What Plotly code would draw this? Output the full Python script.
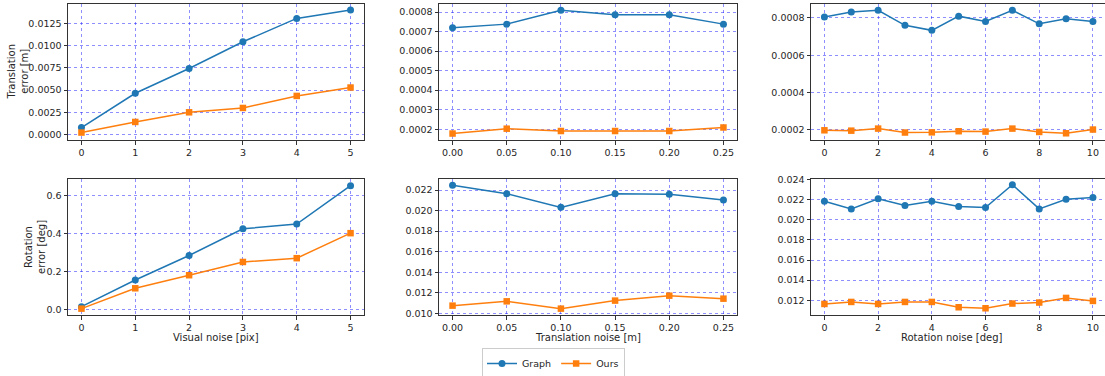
import plotly.graph_objects as go

# ---------------- data ----------------
visual_noise = [0, 1, 2, 3, 4, 5]
trans_noise = [0.00, 0.05, 0.10, 0.15, 0.20, 0.25]
rot_noise = [0, 1, 2, 3, 4, 5, 6, 7, 8, 9, 10]

graph_terr_visual = [0.00076, 0.00464, 0.00744, 0.01046, 0.0131, 0.01405]
ours_terr_visual = [0.0002, 0.0014, 0.00249, 0.00298, 0.00434, 0.00529]
graph_terr_trans = [0.000719, 0.000738, 0.000809, 0.000786, 0.000786, 0.000738]
ours_terr_trans = [0.000178, 0.000203, 0.000191, 0.000191, 0.000191, 0.000209]
graph_terr_rot = [0.000805, 0.000831, 0.00084, 0.00076, 0.000733, 0.000809,
                  0.00078, 0.00084, 0.000768, 0.000795, 0.00078]
ours_terr_rot = [0.000198, 0.000196, 0.000207, 0.000186, 0.000187, 0.000193,
                 0.000191, 0.000207, 0.000189, 0.000182, 0.000202]

graph_rerr_visual = [0.014, 0.155, 0.284, 0.425, 0.45, 0.653]
ours_rerr_visual = [0.0035, 0.111, 0.18, 0.25, 0.27, 0.402]
graph_rerr_trans = [0.02246, 0.02164, 0.02031, 0.02164, 0.02158, 0.02102]
ours_rerr_trans = [0.01075, 0.01117, 0.01046, 0.01124, 0.01172, 0.01143]
graph_rerr_rot = [0.02186, 0.02109, 0.0221, 0.02143, 0.02186, 0.02133,
                  0.02123, 0.0235, 0.02109, 0.02206, 0.02223]
ours_rerr_rot = [0.01163, 0.01183, 0.01163, 0.01183, 0.01183, 0.0113,
                 0.0112, 0.01167, 0.01177, 0.01223, 0.01193]

series_names = ["Graph", "Ours"]
x_titles = ["Visual noise [pix]", "Translation noise [m]", "Rotation noise [deg]"]
y_titles = ["Translation<br>error [m]", "Rotation<br>error [deg]"]

# ---------------- figure ----------------
W, H = 1105, 376
BLUE = "#1f77b4"
ORANGE = "#ff7f0e"
FONT = "DejaVu Sans"
TXT = "#262626"
SPINE = "#333333"
GRID = "rgba(30,30,255,0.5)"

panels = [
    (visual_noise, graph_terr_visual, ours_terr_visual),
    (trans_noise, graph_terr_trans, ours_terr_trans),
    (rot_noise, graph_terr_rot, ours_terr_rot),
    (visual_noise, graph_rerr_visual, ours_rerr_visual),
    (trans_noise, graph_rerr_trans, ours_rerr_trans),
    (rot_noise, graph_rerr_rot, ours_rerr_rot),
]

col_px = [(68, 364), (439, 737), (811, 1105)]
row_px = [(4, 140), (179, 315)]
ytitle_x_px = [17.5, 35]
xtitle_y_px = 337
xtitle_cx_px = [216, 588, 952]

x_ranges = [[-0.25, 5.25], [-0.0125, 0.2625], [-0.5, 10.45]]
x_dticks = [1, 0.05, 2]
x_fmts = ["d", ".2f", "d"]

y_ranges = [[-0.00064, 0.01473], [0.000145, 0.000841], [0.000146, 0.000874],
            [-0.03, 0.688], [0.00984, 0.02307], [0.01053, 0.02407]]
y_dticks = [0.0025, 0.0001, 0.0002, 0.2, 0.002, 0.002]
y_fmts = [".4f", ".4f", ".4f", ".1f", ".3f", ".3f"]

fig = go.Figure()
layout = {}
for i, (xs, g, o) in enumerate(panels):
    r, c = divmod(i, 3)
    n = i + 1
    xa = "x" if n == 1 else f"x{n}"
    ya = "y" if n == 1 else f"y{n}"
    fig.add_trace(go.Scatter(
        x=xs, y=g, xaxis=xa, yaxis=ya, mode="lines+markers", name=series_names[0],
        line=dict(color=BLUE, width=1.5), marker=dict(symbol="circle", size=7, color=BLUE),
        showlegend=(i == 0), legendgroup="g"))
    fig.add_trace(go.Scatter(
        x=xs, y=o, xaxis=xa, yaxis=ya, mode="lines+markers", name=series_names[1],
        line=dict(color=ORANGE, width=1.5), marker=dict(symbol="square", size=6.5, color=ORANGE),
        showlegend=(i == 0), legendgroup="o"))

    x0, x1 = col_px[c]
    y0, y1 = row_px[r]
    common = dict(
        showgrid=True, gridcolor=GRID, griddash="dot", gridwidth=1,
        zeroline=False, showline=True, linecolor=SPINE, linewidth=1,
        ticks="outside", ticklen=3.5, tickwidth=0.8, tickcolor=SPINE,
        tickfont=dict(family=FONT, size=9.5, color=TXT), automargin=False,
    )
    xkey = "xaxis" if n == 1 else f"xaxis{n}"
    ykey = "yaxis" if n == 1 else f"yaxis{n}"
    layout[xkey] = dict(
        common, domain=[x0 / W, x1 / W], anchor=ya, range=x_ranges[c],
        tick0=0, dtick=x_dticks[c], tickformat=x_fmts[c], mirror=True,
    )
    layout[ykey] = dict(
        common, domain=[1 - y1 / H, 1 - y0 / H], anchor=xa, range=y_ranges[i],
        tick0=0, dtick=y_dticks[i], tickformat=y_fmts[i],
        mirror=(c != 2),
    )

annotations = []
for r in range(2):
    y0, y1 = row_px[r]
    annotations.append(dict(
        text=y_titles[r], xref="paper", yref="paper",
        x=ytitle_x_px[r] / W, y=1 - (y0 + y1) / 2 / H,
        xanchor="center", yanchor="middle", textangle=-90, showarrow=False,
        font=dict(family=FONT, size=10, color=TXT), align="center"))
for c in range(3):
    x0, x1 = col_px[c]
    annotations.append(dict(
        text=x_titles[c], xref="paper", yref="paper",
        x=xtitle_cx_px[c] / W, y=1 - xtitle_y_px / H,
        xanchor="center", yanchor="middle", showarrow=False,
        font=dict(family=FONT, size=10, color=TXT)))

fig.update_layout(
    width=W, height=H,
    margin=dict(l=0, r=0, t=0, b=0, autoexpand=False),
    paper_bgcolor="white", plot_bgcolor="white",
    font=dict(family=FONT, size=9.5, color=TXT),
    annotations=annotations,
    legend=dict(orientation="h", x=482 / W, y=1 - 348 / H, xanchor="left", yanchor="top",
                bordercolor="#cccccc", borderwidth=1, bgcolor="white",
                font=dict(family=FONT, size=9.5, color=TXT),
                itemwidth=30, tracegroupgap=0),
    **layout,
)

fig.write_html("out.html")
